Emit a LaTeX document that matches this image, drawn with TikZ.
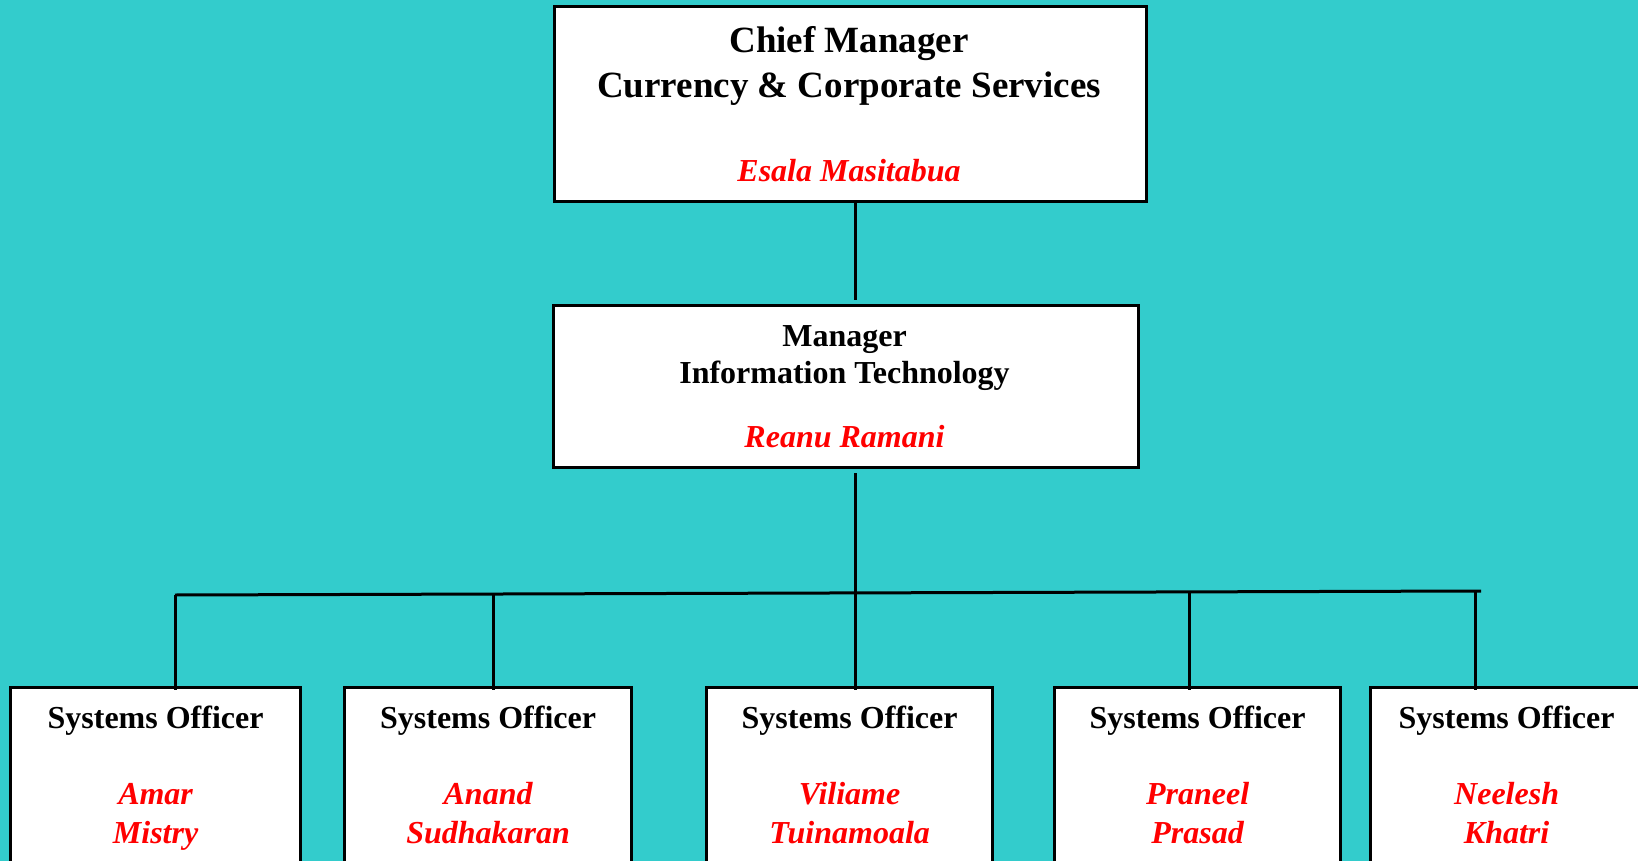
\documentclass[tikz,border=0pt]{standalone}
\usepackage{fontspec}
\setmainfont{Liberation Serif}
\definecolor{bg}{RGB}{51,204,204}
\definecolor{namered}{RGB}{255,0,0}
\begin{document}
\begin{tikzpicture}[x=1pt,y=-1pt,
  box/.style={draw=black, line width=3.2pt, fill=white, rectangle, inner sep=0pt, anchor=north west},
  bigtitle/.style={anchor=base, inner sep=0pt, font=\bfseries\fontsize{37}{44}\selectfont},
  title/.style={anchor=base, inner sep=0pt, font=\bfseries\fontsize{32}{38}\selectfont},
  person/.style={anchor=base, inner sep=0pt, text=namered, font=\bfseries\itshape\fontsize{32}{38}\selectfont},
  link/.style={draw=black, line width=3pt}]
\fill[bg] (0,0) rectangle (1638,861);
\useasboundingbox (0,0) rectangle (1638,861);
\begin{scope}
\clip (0,0) rectangle (1638,861);
% boxes
\node[box, minimum width=592pt, minimum height=195pt] (top) at (553,5) {};
\node[box, minimum width=585pt, minimum height=162pt] (mid) at (552,304) {};
\node[box, minimum width=290pt, minimum height=200pt] (b1) at (9,686) {};
\node[box, minimum width=287pt, minimum height=200pt] (b2) at (343,686) {};
\node[box, minimum width=286pt, minimum height=200pt] (b3) at (705,686) {};
\node[box, minimum width=286pt, minimum height=200pt] (b4) at (1053,686) {};
\node[box, minimum width=272pt, minimum height=200pt] (b5) at (1369,686) {};
% texts
\node[bigtitle] (t1) at (849,53) {Chief Manager};
\node[bigtitle] (t2) at (849,98) {Currency \& Corporate Services};
\node[person] (t3) at (849,182) {Esala Masitabua};
\node[title] (m1) at (844.5,346) {Manager};
\node[title] (m2) at (844.5,383.5) {Information Technology};
\node[person] (m3) at (844.5,447) {Reanu Ramani};
\foreach \n/\a/\b in {b1/Amar/Mistry, b2/Anand/Sudhakaran, b3/Viliame/Tuinamoala, b4/Praneel/Prasad, b5/Neelesh/Khatri}{
  \path (\n.north) ++(0,42) node[title] (\n t) {Systems Officer};
  \path (\n.north) ++(0,118.5) node[person] (\n p) {\a};
  \path (\n.north) ++(0,157) node[person] (\n q) {\b};
}
% connectors
\coordinate (s1) at (855,300);
\coordinate (s2) at (855,473);
\coordinate (busL) at (175,595);
\coordinate (busR) at (1481,591);
\coordinate (d1) at (175,595);
\coordinate (d2) at (493,594);
\coordinate (d3) at (855,593);
\coordinate (d4) at (1189,592);
\coordinate (d5) at (1475,591);
\draw[link] (top.south -| s1) -- (s1);
\draw[link] (s2) -- (d3);
\draw[link] (busL) -- (busR);
\foreach \i in {1,...,5}{
  \draw[link] (d\i) -- ([yshift=-4pt]d\i |- b\i.north);
}
\end{scope}
\end{tikzpicture}
\end{document}
